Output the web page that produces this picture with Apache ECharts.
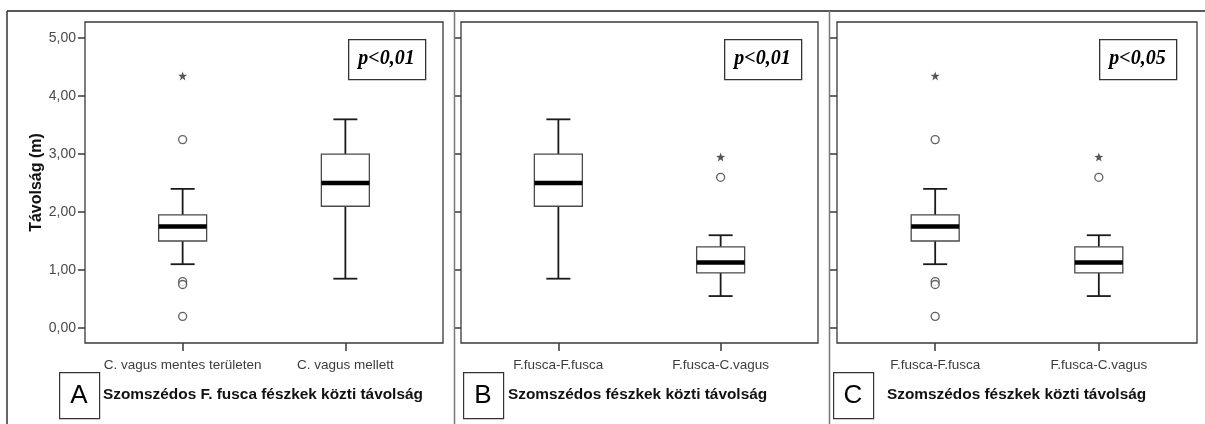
<!DOCTYPE html>
<html>
<head>
<meta charset="utf-8">
<script src="https://cdn.jsdelivr.net/npm/echarts@6/dist/echarts.min.js"></script>
<style>
  html, body { margin: 0; padding: 0; background: #fff; }
  #chart { width: 1205px; height: 424px; }
</style>
</head>
<body>
<div id="chart"></div>
<script>
// Group names on the horizontal axes
const catsA = ['C. vagus mentes területen', 'C. vagus mellett'];
const catsBC = ['F.fusca-F.fusca', 'F.fusca-C.vagus'];

// Five-number summaries: [lower whisker, Q1, median, Q3, upper whisker] in metres
const statsFfFar = [1.10, 1.50, 1.75, 1.95, 2.40];   // F. fusca pairs away from C. vagus
const statsFfNear = [0.85, 2.10, 2.50, 3.00, 3.60];  // F. fusca pairs next to C. vagus
const statsFfCv = [0.55, 0.95, 1.13, 1.40, 1.60];    // F. fusca - C. vagus pairs

// Outliers (circles) and extreme values (stars)
const outFfFar = [3.25, 0.80, 0.75, 0.20];
const extFfFar = [4.35];
const outFfNear = [];
const extFfNear = [];
const outFfCv = [2.60];
const extFfCv = [2.95];

const yTicks = [0, 1, 2, 3, 4, 5];
const yName = 'Távolság (m)';
const pTexts = ['p<0,01', 'p<0,01', 'p<0,05'];
const panelLetters = ['A', 'B', 'C'];
const panelTitles = [
  'Szomszédos F. fusca fészkek közti távolság',
  'Szomszédos fészkek közti távolság',
  'Szomszédos fészkek közti távolság'
];

const panels = [
  { cats: catsA, stats: [statsFfFar, statsFfNear], out: [outFfFar, outFfNear], ext: [extFfFar, extFfNear] },
  { cats: catsBC, stats: [statsFfNear, statsFfCv], out: [outFfNear, outFfCv], ext: [extFfNear, extFfCv] },
  { cats: catsBC, stats: [statsFfFar, statsFfCv], out: [outFfFar, outFfCv], ext: [extFfFar, extFfCv] }
];

// Panel geometry
const gridLeft = [85, 461, 837];
const gridWidth = [358, 357, 360];
const gridTop = 22;
const gridHeight = 321;
const pBoxLeft = [348, 724, 1099];
const letterBoxLeft = [59, 463, 833];
const titleLeft = [103, 508, 887];

const STAR = 'path://M0,-10L2.35,-3.24L9.51,-3.09L3.8,1.24L5.88,8.09L0,4L-5.88,8.09L-3.8,1.24L-9.51,-3.09L-2.35,-3.24Z';
const sansFont = '"Liberation Sans", Arial, sans-serif';

function fmtComma(v) { return v.toFixed(2).replace('.', ','); }

function renderBox(params, api) {
  const x = api.value(0);
  const p = [1, 2, 3, 4, 5].map(i => api.coord([x, api.value(i)]));
  const cx = p[0][0];
  const [yLow, yQ1, yMed, yQ3, yHigh] = p.map(q => q[1]);
  const halfBox = 24, halfCap = 12;
  const whisker = { stroke: '#1a1a1a', lineWidth: 1.8 };
  return {
    type: 'group',
    children: [
      { type: 'line', shape: { x1: cx, y1: yHigh, x2: cx, y2: yQ3 }, style: whisker },
      { type: 'line', shape: { x1: cx, y1: yQ1, x2: cx, y2: yLow }, style: whisker },
      { type: 'line', shape: { x1: cx - halfCap, y1: yHigh, x2: cx + halfCap, y2: yHigh }, style: whisker },
      { type: 'line', shape: { x1: cx - halfCap, y1: yLow, x2: cx + halfCap, y2: yLow }, style: whisker },
      { type: 'rect', shape: { x: cx - halfBox, y: yQ3, width: halfBox * 2, height: yQ1 - yQ3 },
        style: { fill: '#fff', stroke: '#4a4a4a', lineWidth: 1.3 } },
      { type: 'line', shape: { x1: cx - halfBox, y1: yMed, x2: cx + halfBox, y2: yMed },
        style: { stroke: '#000', lineWidth: 4.5 } }
    ]
  };
}

const grid = [], xAxis = [], yAxis = [], series = [], graphic = [];

panels.forEach((pn, i) => {
  grid.push({
    left: gridLeft[i], top: gridTop, width: gridWidth[i], height: gridHeight,
    show: true, borderColor: '#3a3a3a', borderWidth: 1.3, backgroundColor: '#fff'
  });
  xAxis.push({
    type: 'value', gridIndex: i, min: -0.6, max: 1.6, position: 'bottom',
    axisLine: { show: false, onZero: false }, splitLine: { show: false },
    axisTick: { show: true, customValues: [0, 1], length: 8, lineStyle: { color: '#3a3a3a', width: 1.5 } },
    axisLabel: {
      customValues: [0, 1], margin: 15, color: '#3c3c3c', fontSize: 13.5, fontFamily: sansFont,
      formatter: v => pn.cats[Math.round(v)]
    }
  });
  yAxis.push({
    type: 'value', gridIndex: i, min: -0.26, max: 5.28, position: 'left',
    name: i === 0 ? yName : '', nameLocation: 'middle', nameGap: 39,
    nameTextStyle: { fontSize: 16, fontWeight: 'bold', color: '#111', fontFamily: sansFont },
    axisLine: { show: false, onZero: false }, splitLine: { show: false },
    axisTick: { show: true, customValues: yTicks, length: 7, lineStyle: { color: '#3a3a3a', width: 1.5 } },
    axisLabel: {
      show: i === 0, customValues: yTicks, margin: 9, color: '#4a4a4a', fontSize: 14, fontFamily: sansFont,
      formatter: v => fmtComma(v)
    }
  });
  series.push({
    type: 'custom', xAxisIndex: i, yAxisIndex: i, renderItem: renderBox,
    encode: { x: 0, y: [1, 2, 3, 4, 5] },
    data: pn.stats.map((s, k) => [k, ...s]), z: 3, silent: true
  });
  const circles = [], stars = [];
  pn.out.forEach((arr, k) => arr.forEach(v => circles.push([k, v])));
  pn.ext.forEach((arr, k) => arr.forEach(v => stars.push([k, v])));
  series.push({
    type: 'scatter', xAxisIndex: i, yAxisIndex: i, data: circles, z: 4, silent: true,
    symbol: 'circle', symbolSize: 8,
    itemStyle: { color: '#fff', borderColor: '#3a3a3a', borderWidth: 1.3 }
  });
  series.push({
    type: 'scatter', xAxisIndex: i, yAxisIndex: i, data: stars, z: 4, silent: true,
    symbol: STAR, symbolSize: 9, itemStyle: { color: '#2a2a2a' }
  });

  // significance box
  graphic.push({
    type: 'rect', left: pBoxLeft[i], top: 39, shape: { width: 77, height: 40 },
    style: { fill: '#fff', stroke: '#333', lineWidth: 1.3 }, z: 10
  });
  graphic.push({
    type: 'text', x: pBoxLeft[i] + 38.5, y: 59, z: 11,
    style: {
      text: pTexts[i], align: 'center', verticalAlign: 'middle',
      font: 'italic bold 20px "Liberation Serif", "Times New Roman", serif', fill: '#000'
    }
  });
  // panel letter box
  graphic.push({
    type: 'rect', left: letterBoxLeft[i], top: 372, shape: { width: 40, height: 46 },
    style: { fill: '#fff', stroke: '#333', lineWidth: 1.2 }, z: 10
  });
  graphic.push({
    type: 'text', x: letterBoxLeft[i] + 20, y: 396, z: 11,
    style: {
      text: panelLetters[i], align: 'center', verticalAlign: 'middle',
      font: '26px "Liberation Sans", Arial, sans-serif', fill: '#000'
    }
  });
  // panel caption
  graphic.push({
    type: 'text', x: titleLeft[i], y: 395, z: 11,
    style: {
      text: panelTitles[i], align: 'left', verticalAlign: 'middle',
      font: 'bold 15.4px "Liberation Sans", Arial, sans-serif', fill: '#111'
    }
  });
});

// outer frame and panel separators
graphic.push({ type: 'line', shape: { x1: 7, y1: 11, x2: 1205, y2: 11 }, style: { stroke: '#222', lineWidth: 1.5 }, z: 12 });
graphic.push({ type: 'line', shape: { x1: 7, y1: 11, x2: 7, y2: 424 }, style: { stroke: '#333', lineWidth: 1.5 }, z: 12 });
graphic.push({ type: 'line', shape: { x1: 454.5, y1: 11, x2: 454.5, y2: 424 }, style: { stroke: '#777', lineWidth: 1.5 }, z: 12 });
graphic.push({ type: 'line', shape: { x1: 829.5, y1: 11, x2: 829.5, y2: 424 }, style: { stroke: '#777', lineWidth: 1.5 }, z: 12 });

const chart = echarts.init(document.getElementById('chart'), null, { renderer: 'canvas' });
chart.setOption({
  animation: false,
  backgroundColor: '#fff',
  grid, xAxis, yAxis, series, graphic
});
</script>
</body>
</html>
